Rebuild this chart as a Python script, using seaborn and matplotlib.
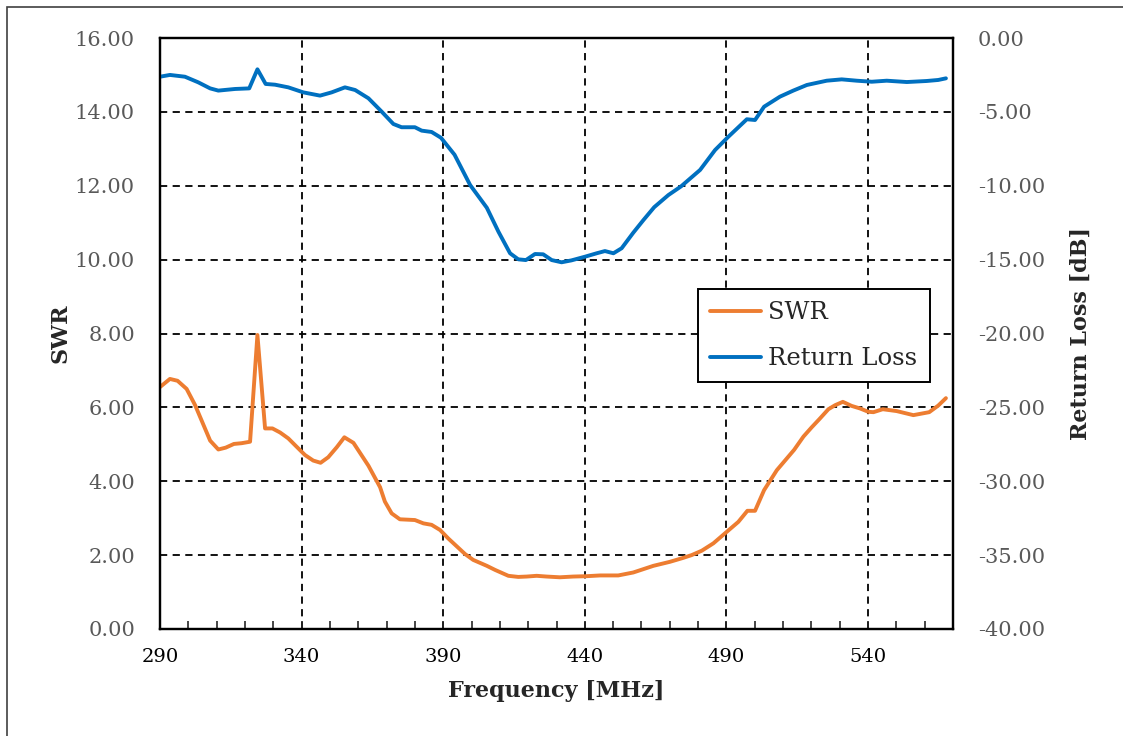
import numpy as np
import pandas as pd
import matplotlib
matplotlib.use("Agg")
import matplotlib.pyplot as plt
import matplotlib.ticker as mticker
from matplotlib.patches import Rectangle
import seaborn as sns

# SWR trace (MHz / ratio)
swr_freq = [290.0, 293.5, 296.2, 299.4, 302.4, 307.7, 310.6, 313.2, 316.1, 318.8,
            321.8, 324.4, 327.1, 329.7, 332.4, 335.3, 338.3, 341.2, 344.1, 346.7,
            349.4, 352.4, 355.1, 358.3, 363.6, 367.7, 369.4, 371.8, 374.7, 380.0,
            383.0, 385.9, 388.9, 391.8, 397.7, 400.6, 405.4, 408.3, 413.0, 416.5,
            419.5, 423.0, 426.5, 431.2, 435.9, 440.7, 445.4, 451.8, 457.1, 464.2,
            470.1, 474.5, 477.7, 481.3, 485.4, 490.1, 494.2, 497.4, 500.1, 503.3,
            507.8, 513.9, 517.2, 520.1, 522.8, 526.0, 528.4, 531.1, 534.2, 537.2,
            540.1, 541.9, 545.2, 550.1, 556.0, 561.6, 564.8, 567.5]
swr = [6.55, 6.77, 6.72, 6.50, 6.06, 5.10, 4.86, 4.91, 5.01, 5.03,
       5.07, 7.96, 5.43, 5.43, 5.32, 5.16, 4.93, 4.71, 4.56, 4.50,
       4.65, 4.92, 5.19, 5.04, 4.42, 3.84, 3.45, 3.13, 2.97, 2.95,
       2.86, 2.82, 2.68, 2.45, 2.03, 1.87, 1.71, 1.60, 1.44, 1.41,
       1.42, 1.44, 1.42, 1.40, 1.42, 1.43, 1.45, 1.45, 1.53, 1.71,
       1.82, 1.92, 2.00, 2.12, 2.32, 2.63, 2.90, 3.20, 3.20, 3.76,
       4.30, 4.85, 5.21, 5.46, 5.68, 5.95, 6.06, 6.15, 6.04, 5.97,
       5.88, 5.87, 5.95, 5.90, 5.79, 5.87, 6.05, 6.25]

# Return loss trace (MHz / dB)
rl_freq = [290.0, 293.5, 298.8, 303.5, 307.7, 310.6, 316.5, 321.5, 324.4, 327.3,
           330.6, 335.3, 340.6, 346.5, 350.6, 355.3, 358.9, 363.6, 368.3, 372.4,
           375.3, 380.0, 382.4, 385.9, 389.2, 394.0, 399.5, 405.4, 409.5, 413.6,
           416.5, 419.2, 422.4, 425.3, 428.3, 431.8, 435.3, 440.1, 444.2, 447.1,
           450.1, 453.0, 457.1, 460.7, 464.5, 469.5, 474.0, 480.7, 486.0, 490.7,
           497.2, 500.1, 503.3, 508.9, 513.6, 518.4, 525.4, 530.7, 536.0, 541.3,
           546.6, 553.7, 560.7, 564.8, 567.5]
rl = [-2.62, -2.50, -2.62, -3.00, -3.41, -3.56, -3.45, -3.41, -2.12, -3.11,
      -3.16, -3.34, -3.68, -3.90, -3.68, -3.34, -3.52, -4.08, -4.99, -5.82,
      -6.04, -6.04, -6.27, -6.36, -6.75, -7.90, -9.95, -11.49, -13.11, -14.57,
      -14.98, -15.03, -14.62, -14.64, -15.03, -15.18, -15.05, -14.80, -14.57, -14.42,
      -14.57, -14.23, -13.18, -12.32, -11.45, -10.63, -10.04, -8.93, -7.58, -6.68,
      -5.50, -5.55, -4.65, -3.97, -3.56, -3.18, -2.89, -2.80, -2.89, -2.96,
      -2.89, -2.98, -2.91, -2.84, -2.73]

x_ticks = [290, 340, 390, 440, 490, 540]
swr_ticks = [0, 2, 4, 6, 8, 10, 12, 14, 16]
rl_ticks = [-40, -35, -30, -25, -20, -15, -10, -5, 0]

ORANGE = "#ED7D31"
BLUE = "#0070C0"
GREY = "#595959"

sns.set_style("white")
plt.rcParams["font.family"] = ["DejaVu Serif"]

swr_df = pd.DataFrame({"freq": swr_freq, "swr": swr})
rl_df = pd.DataFrame({"freq": rl_freq, "rl": rl})

fig = plt.figure(figsize=(11.23, 7.36), dpi=100)
ax = fig.add_axes([160 / 1123, 1 - 629 / 736, 793 / 1123, 591 / 736])
ax2 = ax.twinx()

sns.lineplot(data=swr_df, x="freq", y="swr", ax=ax, color=ORANGE, lw=2.8, label="SWR", legend=False)
sns.lineplot(data=rl_df, x="freq", y="rl", ax=ax2, color=BLUE, lw=2.8, label="Return Loss", legend=False)

ax.set_xlim(290, 570)
ax.set_ylim(0, 16)
ax2.set_ylim(-40, 0)
ax.set_xticks(x_ticks)
ax.xaxis.set_minor_locator(mticker.MultipleLocator(10))
ax.set_yticks(swr_ticks)
ax2.set_yticks(rl_ticks)
fmt = mticker.FuncFormatter(lambda v, p: f"{v:.2f}")
ax.yaxis.set_major_formatter(fmt)
ax2.yaxis.set_major_formatter(fmt)

ax.grid(True, which="major", color="black", linestyle=(0, (4, 3)), lw=1.3)
ax.set_axisbelow(True)

ax.tick_params(axis="x", which="both", direction="in", length=6, width=1.2,
               bottom=True, top=False, labelsize=14, pad=14, labelcolor="black")
ax.tick_params(axis="y", length=0, labelsize=15, pad=18, labelcolor=GREY)
ax2.tick_params(axis="y", length=0, labelsize=15, pad=18, labelcolor=GREY)

for a in (ax, ax2):
    for sp in a.spines.values():
        sp.set_color("black")
        sp.set_linewidth(1.6)

ax.set_xlabel("Frequency [MHz]", fontsize=16, fontweight="bold", labelpad=10)
ax.set_ylabel("SWR", fontsize=16, fontweight="bold", labelpad=2)
ax2.set_ylabel("Return Loss [dB]", fontsize=16, fontweight="bold", labelpad=18)

h1, l1 = ax.get_legend_handles_labels()
h2, l2 = ax2.get_legend_handles_labels()
leg = ax2.legend(h1 + h2, l1 + l2, loc="upper left",
                 bbox_to_anchor=((698 - 160) / 793, (629 - 289) / 591),
                 borderaxespad=0, frameon=True, fancybox=False, edgecolor="black",
                 framealpha=1, fontsize=17.5, handlelength=2.1, handletextpad=0.3,
                 labelspacing=0.95, borderpad=0.5)
leg.get_frame().set_linewidth(1.4)

fig.patches.append(Rectangle((7 / 1123, -0.1), 1.2, 1.1 - 7 / 736, transform=fig.transFigure,
                             fill=False, edgecolor="#404040", lw=1.2))

fig.savefig("out.png", dpi=100)
